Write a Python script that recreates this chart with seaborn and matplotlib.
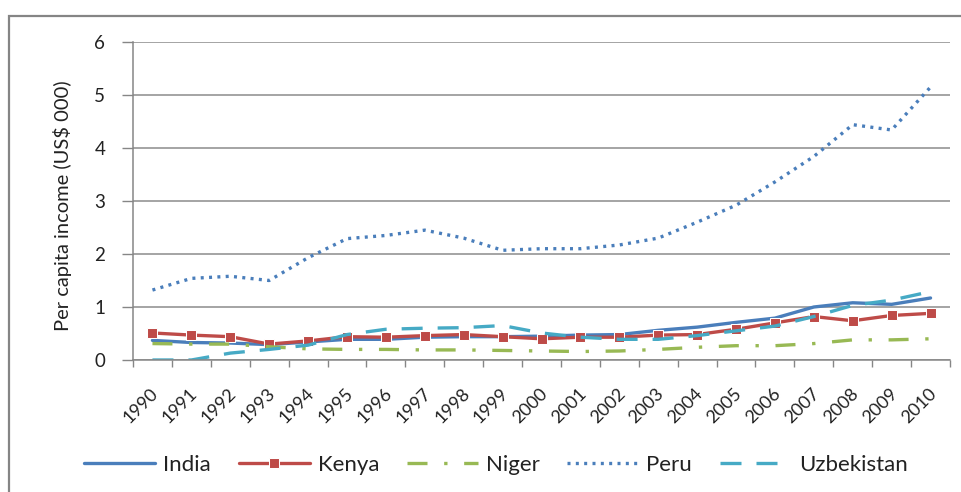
import numpy as np
import pandas as pd
import matplotlib
matplotlib.use("Agg")
import matplotlib.pyplot as plt
import matplotlib.transforms as mtransforms
from matplotlib.patches import Rectangle
import seaborn as sns

# Per capita income, US$ thousands
years = [str(y) for y in range(1990, 2011)]
india = [0.37, 0.33, 0.32, 0.29, 0.34, 0.39, 0.39, 0.43, 0.44, 0.44, 0.45,
         0.47, 0.48, 0.56, 0.62, 0.71, 0.79, 1.00, 1.08, 1.05, 1.17]
kenya = [0.51, 0.47, 0.44, 0.30, 0.36, 0.44, 0.43, 0.46, 0.48, 0.44, 0.40,
         0.43, 0.43, 0.47, 0.48, 0.58, 0.70, 0.82, 0.74, 0.84, 0.88]
niger = [0.31, 0.30, 0.30, 0.25, 0.21, 0.20, 0.20, 0.19, 0.19, 0.18, 0.17,
         0.16, 0.17, 0.20, 0.24, 0.27, 0.27, 0.31, 0.38, 0.38, 0.40]
peru = [1.32, 1.54, 1.58, 1.50, 1.93, 2.29, 2.35, 2.45, 2.30, 2.07, 2.10,
        2.10, 2.17, 2.30, 2.60, 2.92, 3.36, 3.84, 4.44, 4.34, 5.15]
uzbekistan = [0.00, 0.00, 0.13, 0.20, 0.28, 0.48, 0.58, 0.60, 0.61, 0.65, 0.51,
              0.43, 0.39, 0.39, 0.46, 0.55, 0.64, 0.82, 1.03, 1.13, 1.29]

countries = ["India", "Kenya", "Niger", "Peru", "Uzbekistan"]
series = [india, kenya, niger, peru, uzbekistan]
colors = ["#4A7EBB", "#BE4B48", "#98B954", "#4A7EBB", "#46AAC5"]
styles = [
    dict(linestyle="-"),
    dict(linestyle="-", marker="s", markersize=6.5),
    dict(linestyle=(0, (6.0, 5.0, 1.0, 5.0))),
    dict(linestyle=(0, (0.9, 1.6))),
    dict(linestyle=(0, (6.3, 4.5))),
]

df = pd.DataFrame({"year": years})
for name, vals in zip(countries, series):
    df[name] = vals
df["pos"] = np.arange(len(years))

sns.set_theme(style="white")
plt.rcParams["font.family"] = ["Lato", "DejaVu Sans"]

fig = plt.figure(figsize=(9.61, 4.92), dpi=100)
ax = fig.add_axes([133 / 961, 1 - 360 / 492, (950 - 133) / 961, (360 - 42) / 492])

for name, col, st in zip(countries, colors, styles):
    sns.lineplot(data=df, x="pos", y=name, ax=ax, color=col, linewidth=2.4,
                 label=name, dash_capstyle="butt", solid_capstyle="round",
                 **st)

ax.set_xlim(-0.5, len(years) - 0.5)
ax.set_ylim(0, 6)
ax.set_yticks(range(0, 7))
ax.set_xticks(df["pos"])
ax.set_xticklabels(years, rotation=45, ha="right", fontsize=13, color="#222222")
ax.set_xticks(np.arange(-0.5, len(years)), minor=True)
ax.tick_params(axis="x", which="major", length=0, pad=18)
ax.tick_params(axis="x", which="minor", length=5, width=1, color="#868686",
               direction="out", bottom=True)
ax.tick_params(axis="y", length=8, width=1, color="#868686", direction="out",
               left=True, labelsize=13.5, labelcolor="#222222", pad=12)
offset = mtransforms.ScaledTranslation(9 / 100, 0, fig.dpi_scale_trans)
for lbl in ax.get_xticklabels():
    lbl.set_transform(lbl.get_transform() + offset)

ax.yaxis.grid(True, color="#8C8C8C", linewidth=1.1)
ax.xaxis.grid(False)
for side in ["top", "right"]:
    ax.spines[side].set_visible(False)
for side in ["left", "bottom"]:
    ax.spines[side].set_color("#868686")
    ax.spines[side].set_linewidth(1.1)

ax.set_xlabel("")
ax.set_ylabel("Per capita income (US$ 000)", fontsize=14.5, color="#222222",
              va="center")
ax.yaxis.set_label_coords((62 - 133) / 817, (360 - 206) / 318)

ax.legend_.remove()
handles, labels = ax.get_legend_handles_labels()
fig.legend(handles, labels, loc="center", bbox_to_anchor=(0.516, 1 - 465 / 492),
           ncol=5, frameon=False, fontsize=16, handlelength=3.2,
           handletextpad=0.35, columnspacing=1.25, numpoints=1,
           labelcolor="#222222")

# Chart-area frame (runs past the right and bottom edges)
fig.patches.append(Rectangle((9 / 961, -0.1), 1.2, 1 - 16 / 492 + 0.1,
                             transform=fig.transFigure, fill=False,
                             edgecolor="#858585", linewidth=1.6))

fig.savefig("out.png", dpi=100)
